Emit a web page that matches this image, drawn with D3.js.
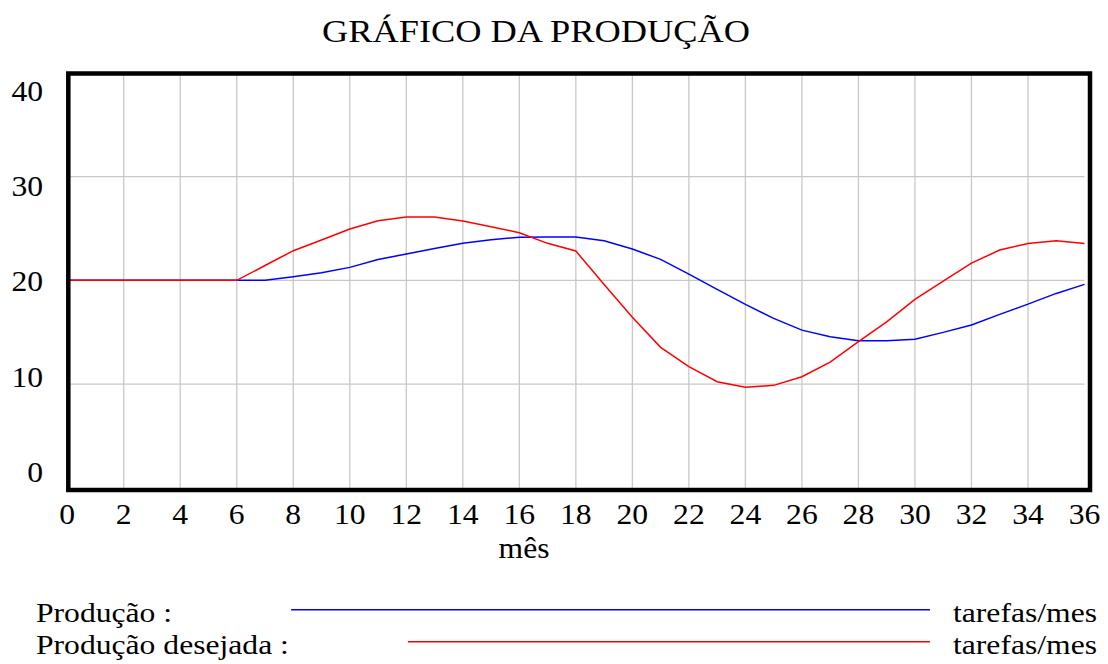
<!DOCTYPE html>
<html><head><meta charset="utf-8">
<script src="https://cdn.jsdelivr.net/npm/d3@7"></script>
<style>
body{margin:0;background:#fff}
svg{display:block}
text{font-family:"Liberation Serif","Times New Roman",serif;fill:#000}
</style>
</head><body>
<svg id="c" width="1108" height="664"></svg>
<script>
const title = "GRÁFICO DA PRODUÇÃO";
const xLabel = "mês";
const months = [0,1,2,3,4,5,6,7,8,9,10,11,12,13,14,15,16,17,18,19,20,21,22,23,24,25,26,27,28,29,30,31,32,33,34,35,36];
const producao = [20,20,20,20,20,20,20,20,20.35,20.73,21.25,22.02,22.54,23.08,23.57,23.92,24.15,24.17,24.17,23.82,23.02,22.02,20.6,19.13,17.68,16.33,15.2,14.56,14.18,14.18,14.31,14.98,15.69,16.72,17.71,18.74,19.61];
const desejada = [20,20,20,20,20,20,20,21.43,22.86,23.89,24.95,25.75,26.1,26.1,25.72,25.17,24.59,23.57,22.83,19.6,16.43,13.54,11.67,10.22,9.68,9.87,10.7,12.12,14.08,16.0,18.17,19.93,21.67,22.92,23.56,23.82,23.56];
const xTicks = [0,2,4,6,8,10,12,14,16,18,20,22,24,26,28,30,32,34,36];
const yTicks = [0,10,20,30,40];
const seriesNames = ["Produção :", "Produção desejada :"];
const seriesUnits = ["tarefas/mes", "tarefas/mes"];
const seriesColors = ["#0000ff", "#ff0000"];
const seriesValues = [producao, desejada];

const svg = d3.select("#c");
const x = d3.scaleLinear().domain([0,36]).range([67.2,1084.5]);
const y = d3.scaleLinear().domain([0,40]).range([487.7,73]);
const yLab = d3.scaleLinear().domain([0,40]).range([481.7,101]);
const SX = 1.11;

// title
svg.append("text").attr("x",322).attr("y",41.7)
  .attr("font-size",30.5).attr("textLength",428).attr("lengthAdjust","spacingAndGlyphs")
  .text(title);

// grid
svg.append("g").selectAll("line").data(xTicks.filter(d=>d>0&&d<36)).join("line")
  .attr("x1",d=>x(d)).attr("x2",d=>x(d)).attr("y1",y(40)).attr("y2",y(0))
  .attr("stroke","#c8c8c8").attr("stroke-width",1.3);
svg.append("g").selectAll("line").data(yTicks.filter(d=>d>0&&d<40)).join("line")
  .attr("x1",x(0)).attr("x2",x(36)).attr("y1",d=>y(d)).attr("y2",d=>y(d))
  .attr("stroke","#c8c8c8").attr("stroke-width",1.3);

// lines
const line = d3.line().x((d,i)=>x(months[i])).y(d=>y(d));
svg.append("g").selectAll("path").data(seriesValues).join("path")
  .attr("d",d=>line(d)).attr("fill","none")
  .attr("stroke",(d,i)=>seriesColors[i]).attr("stroke-width",1.5);

// frame
svg.append("rect").attr("x",68.3).attr("y",73.5).attr("width",1090-68.3).attr("height",490-73.5)
  .attr("fill","none").attr("stroke","#000").attr("stroke-width",4.5);

// y labels
svg.append("g").selectAll("text").data(yTicks).join("text")
  .attr("transform",d=>`translate(43,${yLab(d)}) scale(${SX},1)`)
  .attr("text-anchor","end").attr("font-size",28.5).text(d=>d);

// x labels
svg.append("g").selectAll("text").data(xTicks).join("text")
  .attr("transform",d=>`translate(${x(d)},523.5) scale(${SX},1)`)
  .attr("text-anchor","middle").attr("font-size",28.5).text(d=>d);

svg.append("text").attr("transform",`translate(524,558) scale(${SX},1)`)
  .attr("text-anchor","middle").attr("font-size",28.5).text(xLabel);

// legend
const lg = svg.append("g");
const LSX = 1.13;
seriesNames.forEach((n,i)=>{
  const by = 621.7 + i*32;
  const t = lg.append("text").attr("transform",`translate(36,${by}) scale(${LSX},1)`)
    .attr("font-size",28).text(n);
  const w = t.node().getComputedTextLength()*LSX;
  lg.append("line").attr("x1",36+w+119).attr("x2",930).attr("y1",by-12).attr("y2",by-12)
    .attr("stroke",seriesColors[i]).attr("stroke-width",1.5);
  lg.append("text").attr("transform",`translate(1097,${by}) scale(${LSX},1)`)
    .attr("text-anchor","end").attr("font-size",28).text(seriesUnits[i]);
});
</script>
</body></html>
